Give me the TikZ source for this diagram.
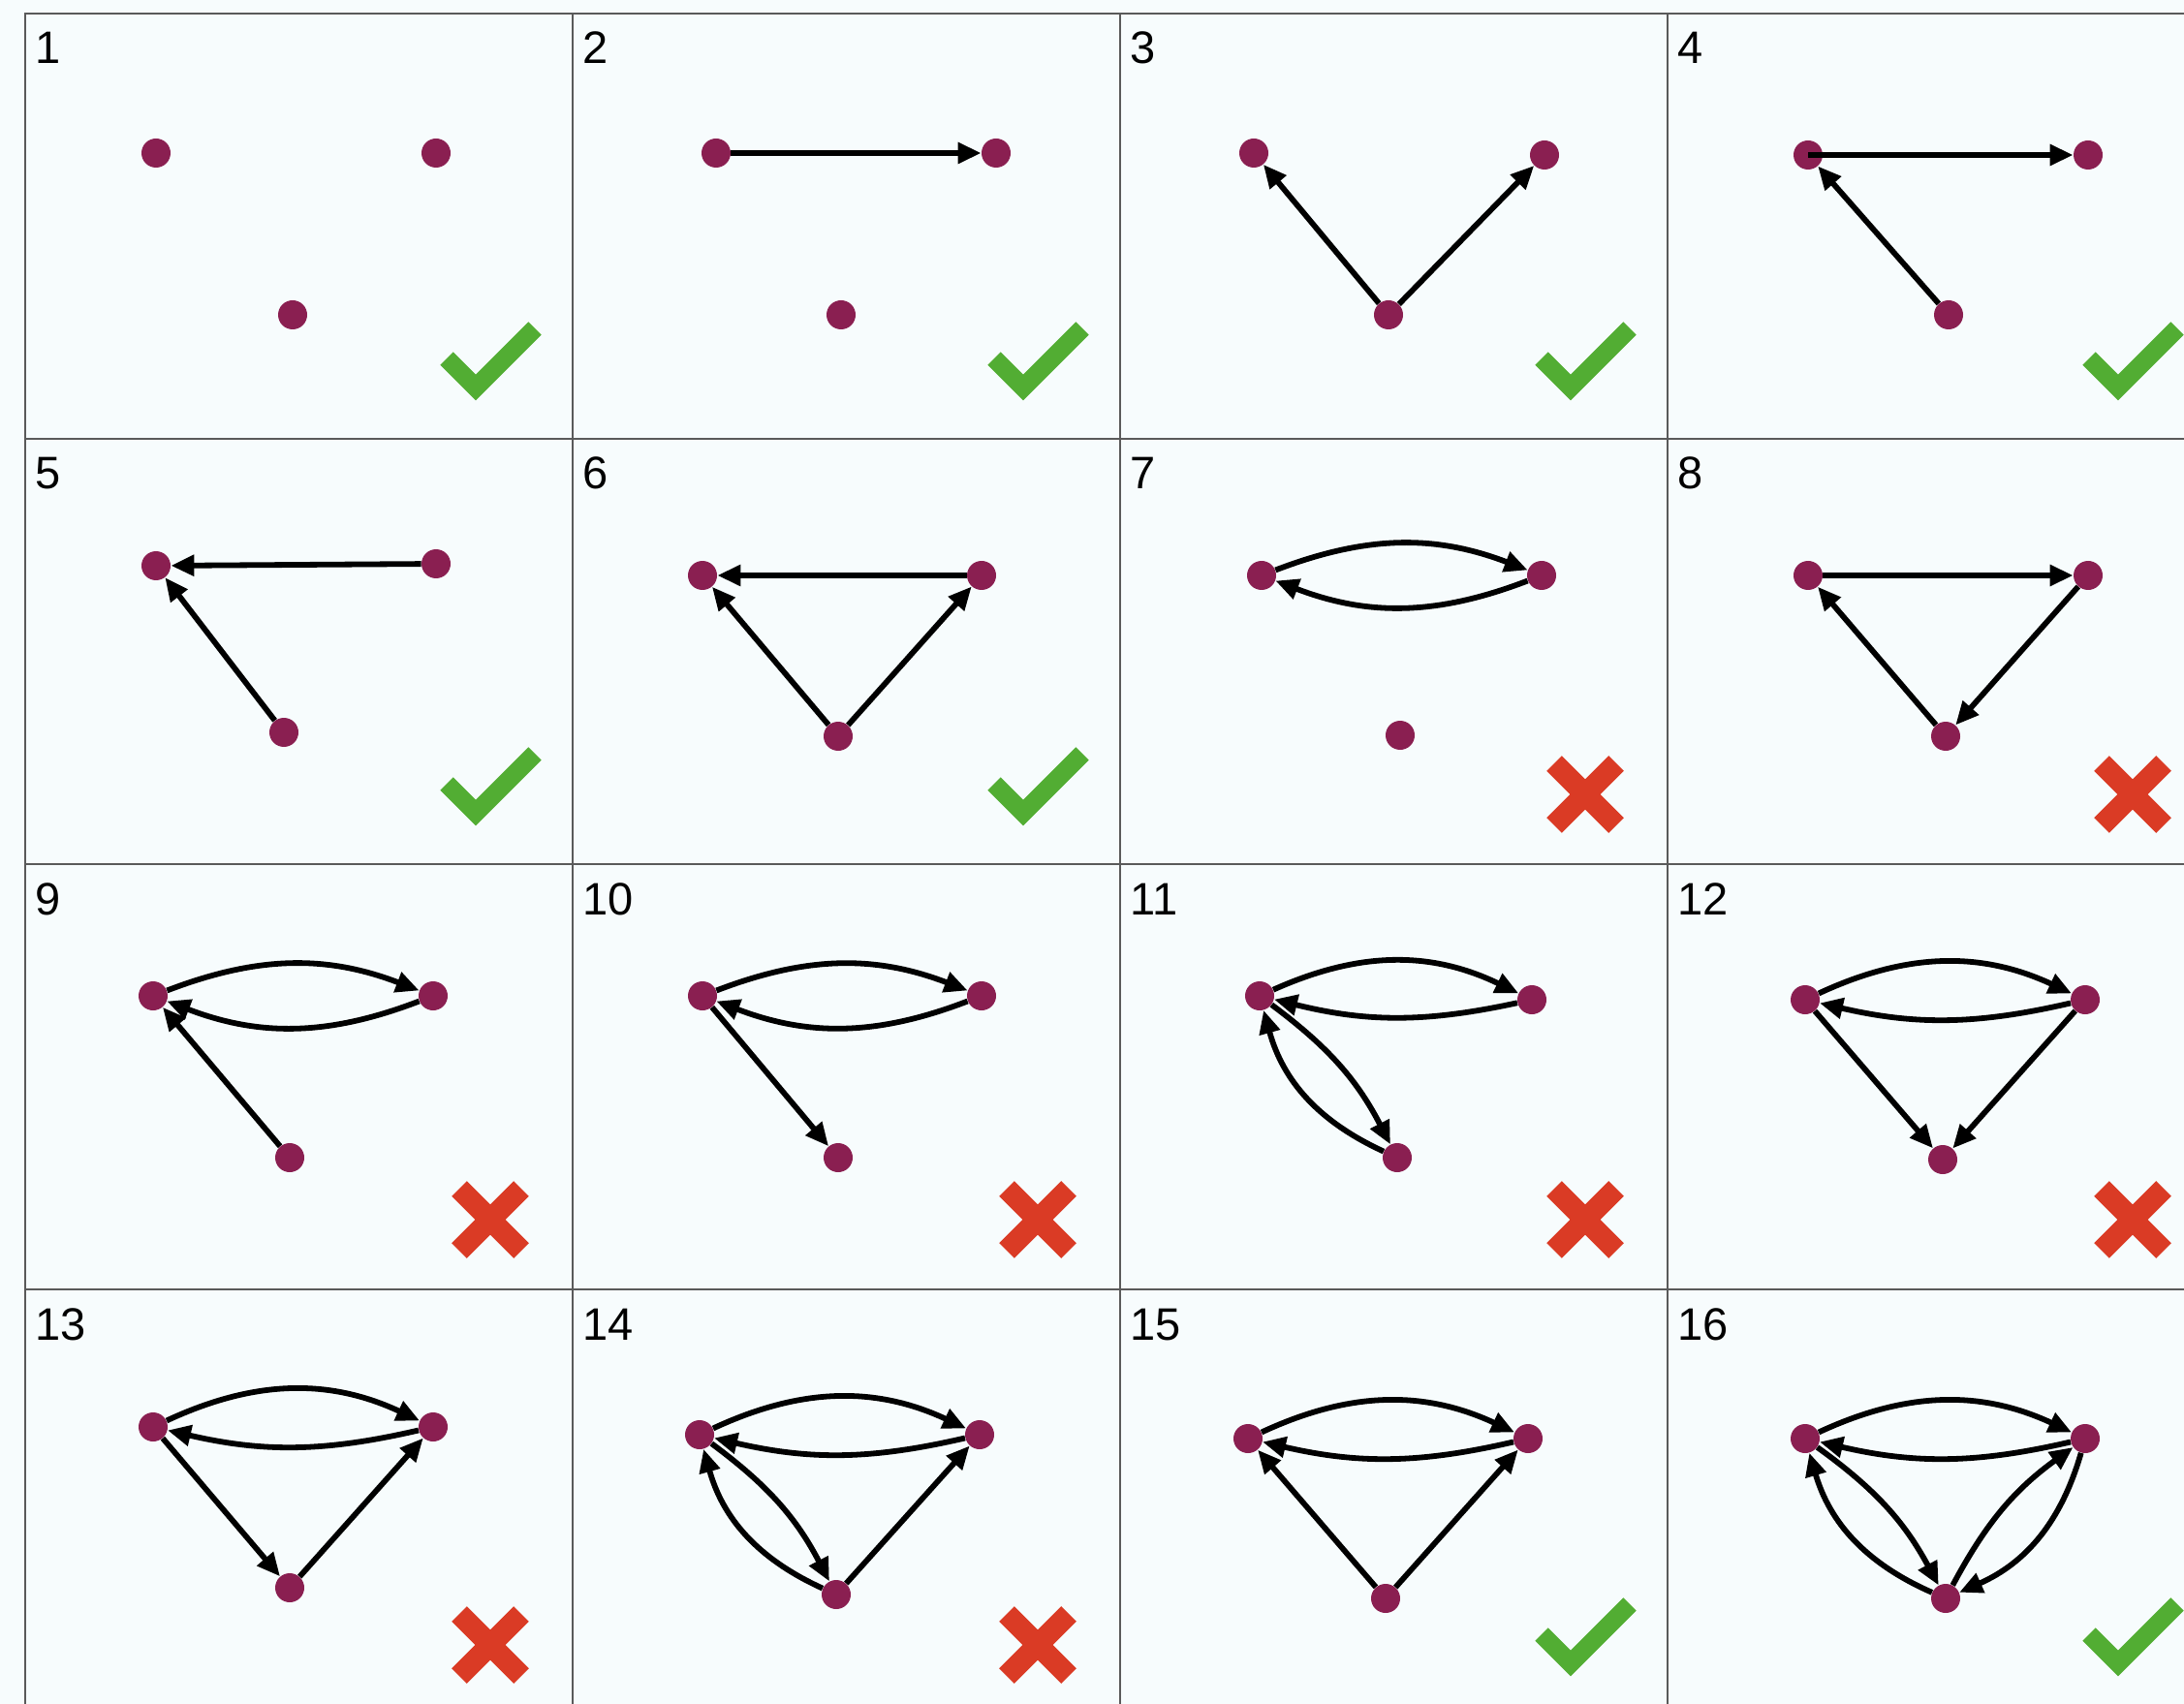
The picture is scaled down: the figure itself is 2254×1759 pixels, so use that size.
\documentclass[tikz,border=0pt]{standalone}
\usepackage{fontspec}
\setmainfont{Liberation Sans}
\usepackage{xcolor}
\usepackage{tikz}
\usetikzlibrary{arrows.meta,positioning}
\definecolor{vtxred}{HTML}{8A1F51}
\definecolor{good}{HTML}{52AD33}
\definecolor{bad}{HTML}{DA3B25}
\definecolor{paleblue}{HTML}{F7FCFD}
\definecolor{gridgray}{HTML}{5A5A5A}
\tikzset{
  vtx/.style   ={circle,fill=vtxred,inner sep=0pt,minimum size=15pt},
  flow/.style  ={-{Triangle[length=12pt,width=10.5pt]},line width=2.9pt,draw=black},
  outer/.style ={flow,bend left=25},
  inner/.style ={flow,bend left=13},
  even/.style  ={flow,bend left=21},
  okmark/.style={draw=good,line width=9.5pt,line cap=butt,line join=miter},
  nomark/.style={draw=bad,line width=11pt,line cap=butt},
  cellbox/.style={draw=gridgray,line width=0.8pt,fill=paleblue},
  num/.style   ={anchor=base west,inner sep=0pt,font=\fontsize{23.5}{28}\selectfont}
}

\begin{document}
\begin{tikzpicture}[x=0.5pt,y=-0.5pt]
  \useasboundingbox (0,0) rectangle (2254,1759);
  \clip (0,0) rectangle (2254,1759);
  \fill[paleblue] (0,0) rectangle (2254,1759);
  % grid and cell numbers
  \foreach \r in {0,...,3}
    \foreach \c in {0,...,3}{
      \pgfmathtruncatemacro\k{4*\r+\c+1}
      \draw[cellbox] ({26+565*\c},{14+439*\r}) rectangle +(565,439);
      \node[num] (n\k) at ({36+565*\c},{66+439*\r}) {\k};
    }
  % verdicts
  \foreach \c/\r in {0/0,1/0,2/0,3/0,0/1,1/1,2/3,3/3}
    \draw[okmark] ({461+565*\c},{370+439*\r}) -- ++(30,30) -- ++(61,-61);
  \foreach \c/\r in {2/1,3/1,0/2,1/2,2/2,3/2,0/3,1/3}{
    \draw[nomark] ({474+565*\c},{349+439*\r}) -- ++(64,64);
    \draw[nomark] ({538+565*\c},{349+439*\r}) -- ++(-64,64);
  }
  % three vertices per cell
  \foreach \k/\ax/\ay/\bx/\by/\cx/\cy in {
      1/161/158/450/158/302/325,    2/739/158/1028/158/868/325,
      3/1294/158/1594/160/1433/325, 4/1866/160/2155/160/2011/325,
      5/161/584/450/582/293/756,    6/725/594/1013/594/865/760,
      7/1302/594/1591/594/1445/759, 8/1866/594/2155/594/2008/760,
      9/158/1028/447/1028/299/1195, 10/725/1028/1013/1028/865/1195,
      11/1300/1028/1581/1032/1442/1195, 12/1863/1032/2152/1032/2005/1197,
      13/158/1473/447/1473/299/1639, 14/722/1481/1011/1481/863/1646,
      15/1288/1485/1577/1485/1430/1650, 16/1863/1485/2152/1485/2008/1650}{
    \node[vtx] (a\k) at (\ax,\ay) {};
    \node[vtx] (b\k) at (\bx,\by) {};
    \node[vtx] (c\k) at (\cx,\cy) {};
  }
  % edges
  \draw[flow] (a2) -- (b2);
  \draw[flow] (c3) -- (a3); \draw[flow] (c3) -- (b3);
  \draw[flow] (a4.center) -- (b4); \draw[flow] (c4) -- (a4);
  \draw[flow] (b5) -- (a5); \draw[flow] (c5) -- (a5);
  \draw[flow] (b6) -- (a6); \draw[flow] (c6) -- (a6); \draw[flow] (c6) -- (b6);
  \draw[even] (a7) to (b7); \draw[even] (b7) to (a7);
  \draw[flow] (a8) -- (b8); \draw[flow] (c8) -- (a8); \draw[flow] (b8) -- (c8);
  \draw[even] (a9) to (b9); \draw[even] (b9) to (a9); \draw[flow] (c9) -- (a9);
  \draw[even] (a10) to (b10); \draw[even] (b10) to (a10); \draw[flow] (a10) -- (c10);
  \draw[outer] (a11) to (b11); \draw[inner] (b11) to (a11);
  \draw[inner] (a11) to (c11); \draw[outer] (c11) to (a11);
  \draw[outer] (a12) to (b12); \draw[inner] (b12) to (a12);
  \draw[flow] (a12) -- (c12); \draw[flow] (b12) -- (c12);
  \draw[outer] (a13) to (b13); \draw[inner] (b13) to (a13);
  \draw[flow] (a13) -- (c13); \draw[flow] (c13) -- (b13);
  \draw[outer] (a14) to (b14); \draw[inner] (b14) to (a14);
  \draw[inner] (a14) to (c14); \draw[outer] (c14) to (a14); \draw[flow] (c14) -- (b14);
  \draw[outer] (a15) to (b15); \draw[inner] (b15) to (a15);
  \draw[flow] (c15) -- (a15); \draw[flow] (c15) -- (b15);
  \draw[outer] (a16) to (b16); \draw[inner] (b16) to (a16);
  \draw[inner] (a16) to (c16); \draw[outer] (c16) to (a16);
  \draw[inner] (c16) to (b16); \draw[outer] (b16) to (c16);
\end{tikzpicture}
\end{document}
